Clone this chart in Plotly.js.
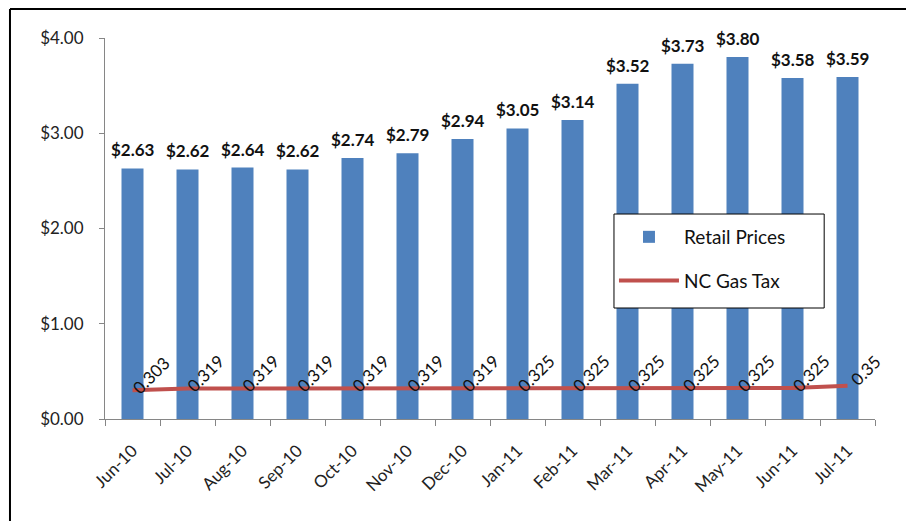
<!DOCTYPE html>
<html>
<head>
<meta charset="utf-8">
<script src="https://cdn.plot.ly/plotly-3.0.1.min.js"></script>
<style>
html,body{margin:0;padding:0;background:#fff;}
#chart{width:906px;height:521px;}
</style>
</head>
<body>
<div id="chart"></div>
<script>
const months = ["Jun-10","Jul-10","Aug-10","Sep-10","Oct-10","Nov-10","Dec-10","Jan-11","Feb-11","Mar-11","Apr-11","May-11","Jun-11","Jul-11"];
const retailPrices = [2.63,2.62,2.64,2.62,2.74,2.79,2.94,3.05,3.14,3.52,3.73,3.80,3.58,3.59];
const ncGasTax = [0.303,0.319,0.319,0.319,0.319,0.319,0.319,0.325,0.325,0.325,0.325,0.325,0.325,0.35];
const yTicks = [0,1,2,3,4];
const yTickText = yTicks.map(v => "$" + v.toFixed(2));

const FONT = "Lato, 'Open Sans', sans-serif";

const traces = [
  {
    type: "bar",
    name: "Retail Prices",
    x: months,
    y: retailPrices,
    width: 0.4,
    marker: {color: "#4F81BD"},
    legendgroup: "a",
    hoverinfo: "x+y"
  },
  {
    type: "scatter",
    mode: "lines",
    name: "NC Gas Tax",
    x: months,
    y: ncGasTax,
    line: {color: "#C0504D", width: 4},
    legendgroup: "b"
  }
];

const annotations = [];
months.forEach((m, i) => {
  annotations.push({
    x: m, y: retailPrices[i], xref: "x", yref: "y",
    text: "$" + retailPrices[i].toFixed(2),
    showarrow: false, yanchor: "bottom", xanchor: "center", yshift: 6,
    font: {family: FONT, size: 17, color: "#111", weight: "bold"}
  });
  annotations.push({
    x: m, y: ncGasTax[i], xref: "x", yref: "y",
    text: String(ncGasTax[i]),
    showarrow: false, textangle: -45,
    xanchor: "center", yanchor: "middle",
    xshift: 18, yshift: 15,
    font: {family: FONT, size: 17, color: "#111"}
  });
});

const layout = {
  width: 906, height: 521,
  margin: {l: 105, r: 31, t: 38, b: 102},
  paper_bgcolor: "#fff", plot_bgcolor: "#fff",
  font: {family: FONT, color: "#222"},
  showlegend: true,
  legend: {
    x: 0.661, y: 0.5276, xanchor: "left", yanchor: "top",
    bgcolor: "rgba(0,0,0,0)", borderwidth: 0,
    font: {family: FONT, size: 19, color: "#111"},
    traceorder: "grouped", tracegroupgap: 16,
    itemwidth: 60
  },
  xaxis: {
    type: "category",
    range: [-0.5, 13.5],
    showline: true, linecolor: "#868686", linewidth: 1,
    ticks: "outside", tickson: "boundaries", ticklen: 6, tickcolor: "#868686",
    tickangle: -45, ticklabelstandoff: 14,
    tickfont: {family: FONT, size: 17, color: "#222"},
    showgrid: false, zeroline: false, fixedrange: true
  },
  yaxis: {
    range: [0, 4],
    tickvals: yTicks,
    ticktext: yTickText,
    showline: true, linecolor: "#868686", linewidth: 1,
    ticks: "outside", ticklen: 5, tickcolor: "#868686",
    ticklabelstandoff: 12,
    tickfont: {family: FONT, size: 17, color: "#222"},
    showgrid: false, zeroline: false, fixedrange: true
  },
  shapes: [
    {type: "rect", xref: "paper", yref: "paper",
     x0: 0.661, x1: 0.934, y0: 0.2913, y1: 0.538,
     line: {color: "#000", width: 1}, fillcolor: "#fff", layer: "above"},
    {type: "line", xref: "paper", yref: "paper",
     x0: -0.1234, x1: 1.06, y0: 1.0761, y1: 1.0761,
     line: {color: "#000", width: 2}, layer: "above"},
    {type: "line", xref: "paper", yref: "paper",
     x0: -0.1234, x1: -0.1234, y0: -0.30, y1: 1.0761,
     line: {color: "#000", width: 2}, layer: "above"}
  ],
  annotations: annotations,
  bargap: 0.6
};

Plotly.newPlot("chart", traces, layout, {displayModeBar: false, staticPlot: true});
</script>
</body>
</html>
